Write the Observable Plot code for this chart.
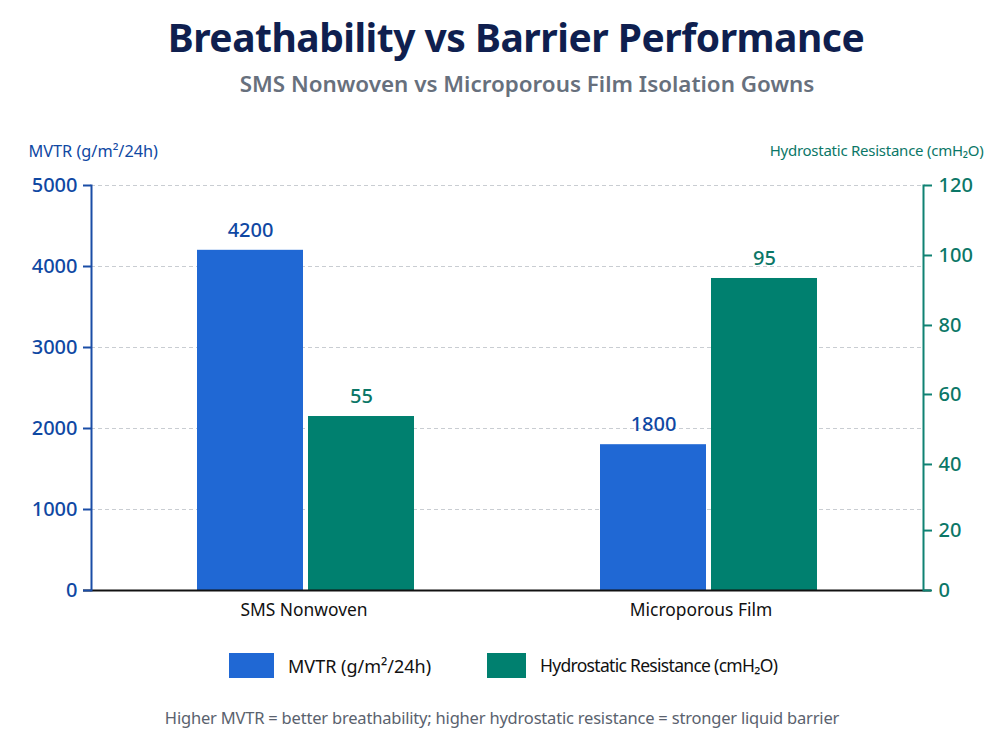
<!DOCTYPE html>
<html><head><meta charset="utf-8">
<script src="https://cdn.jsdelivr.net/npm/d3@7"></script>
<script src="https://cdn.jsdelivr.net/npm/@observablehq/plot@0.6"></script>
<style>
html,body{margin:0;padding:0;background:#fff;width:1000px;height:750px;overflow:hidden;font-family:"Noto Sans",sans-serif}
#wrap{position:relative;width:1000px;height:750px}
.t{position:absolute;white-space:nowrap;line-height:1;transform:translate(-50%,-50%)}
#title{left:516px;top:36px;font-size:39px;font-weight:700;color:#0f1f4f;letter-spacing:-.5px}
#subtitle{left:527px;top:84px;font-size:22.4px;font-weight:600;color:#67707d}
#caption{left:502px;top:718px;font-size:16.5px;color:#5a626e;letter-spacing:-.2px}
#chart{position:absolute;left:0;top:130px}
.sw{position:absolute;top:653px;height:25px}
.lg{position:absolute;top:666px;transform:translateY(-50%);font-size:18px;color:#111;white-space:nowrap;line-height:1}
.tight{letter-spacing:-.25px}
</style></head>
<body><div id="wrap">
<div id="title" class="t">Breathability vs Barrier Performance</div>
<div id="subtitle" class="t">SMS Nonwoven vs Microporous Film Isolation Gowns</div>
<div id="chart"></div>
<div class="sw" style="left:229px;width:45px;background:#2068d4"></div>
<div class="lg" style="left:288px">MVTR (g/m²/24h)</div>
<div class="sw" style="left:487px;width:39px;background:#00806f"></div>
<div class="lg" style="left:540px;font-size:17.5px;letter-spacing:-.7px">Hydrostatic Resistance (cmH₂O)</div>
<div id="caption" class="t">Higher MVTR = better breathability; higher hydrostatic resistance = stronger liquid barrier</div>
</div>
<script>
const categories = ["SMS Nonwoven", "Microporous Film"];
const mvtrValues = [4200, 1800];
const hydroValues = [55, 95];
const mvtrTicks = [0, 1000, 2000, 3000, 4000, 5000];
const hydroTicks = [0, 20, 40, 60, 80, 100, 120];
// The reference's right axis is not evenly spaced: hydrostatic readings and where each sits on the left scale.
const hydroAnchors = [0, 20, 40, 55, 60, 80, 95, 100, 120];
const hydroOnMvtr = [0, 740, 1556, 2148, 2420, 3272, 3852, 4136, 5000];

const BLUE = "#2068d4", TEAL = "#00806f", BLUE_TXT = "#0f48a3", TEAL_TXT = "#0b7767";
const AXIS_BLUE = "#1a4da6", AXIS_TEAL = "#0f8273";
const FONT = '"Noto Sans", sans-serif';
const hydroToY = d3.scaleLinear(hydroAnchors, hydroOnMvtr);

const mvtrRows = categories.map((c, i) => ({cat: c, y: mvtrValues[i], label: String(mvtrValues[i])}));
const hydroRows = categories.map((c, i) => ({cat: c, y: hydroToY(hydroValues[i]), label: String(hydroValues[i])}));
const hydroTickY = hydroTicks.map(hydroToY);

const BAR_OFFSET = 55.5;
const plot = Plot.plot({
  width: 1000, height: 500,
  marginLeft: 91, marginRight: 77, marginTop: 55, marginBottom: 40,
  style: {fontFamily: FONT, background: "transparent"},
  x: {domain: categories, range: [104.5, 910.5], paddingInner: 0.4615, paddingOuter: 0.23075, axis: null},
  y: {domain: [0, 5000], axis: null},
  marks: [
    Plot.ruleY(mvtrTicks.filter(d => d > 0), {stroke: "#c9cdd2", strokeWidth: 1.2, strokeDasharray: "4 3"}),
    Plot.barY(mvtrRows, {x: "cat", y: "y", fill: BLUE, insetRight: 111}),
    Plot.barY(hydroRows, {x: "cat", y: "y", fill: TEAL, insetLeft: 111}),
    Plot.ruleY([0], {stroke: "#111", strokeWidth: 2, insetLeft: -8, insetRight: -8}),
    Plot.frame({anchor: "left", stroke: AXIS_BLUE, strokeWidth: 2}),
    Plot.frame({anchor: "right", stroke: AXIS_TEAL, strokeWidth: 2}),
    Plot.axisY({anchor: "left", ticks: mvtrTicks, tickFormat: d => String(d), label: null, tickSize: 8, tickPadding: 6, stroke: AXIS_BLUE, strokeWidth: 2, fill: BLUE_TXT, fontSize: 20, fontWeight: 500}),
    Plot.axisY({anchor: "right", ticks: hydroTickY, tickFormat: d => hydroTicks[hydroTickY.indexOf(d)], label: null, tickSize: 8, tickPadding: 7, stroke: AXIS_TEAL, strokeWidth: 2, fill: TEAL_TXT, fontSize: 20, fontWeight: 500}),
    Plot.axisX({anchor: "bottom", ticks: [categories[0]], label: null, tickSize: 0, tickPadding: 13, dx: -2, fontSize: 17.4, fill: "#111"}),
    Plot.axisX({anchor: "bottom", ticks: [categories[1]], label: null, tickSize: 0, tickPadding: 13, dx: -8, fontSize: 17.4, fill: "#111"}),
    Plot.text(mvtrRows, {x: "cat", y: "y", text: "label", dx: -BAR_OFFSET, dy: -20, fontSize: 20, fontWeight: 500, fill: BLUE_TXT}),
    Plot.text(hydroRows, {x: "cat", y: "y", text: "label", dx: BAR_OFFSET, dy: -20, fontSize: 20, fontWeight: 500, fill: TEAL_TXT}),
    Plot.text(["MVTR (g/m²/24h)"], {frameAnchor: "top-left", textAnchor: "start", dx: -63, dy: -40, fontSize: 16.3, fill: BLUE_TXT}),
    Plot.text(["Hydrostatic Resistance (cmH₂O)"], {frameAnchor: "top-right", textAnchor: "end", dx: 60, dy: -40, fontSize: 15, fill: TEAL_TXT, className: "tight"})
  ]
});
document.getElementById("chart").appendChild(plot);
</script>
</body></html>
